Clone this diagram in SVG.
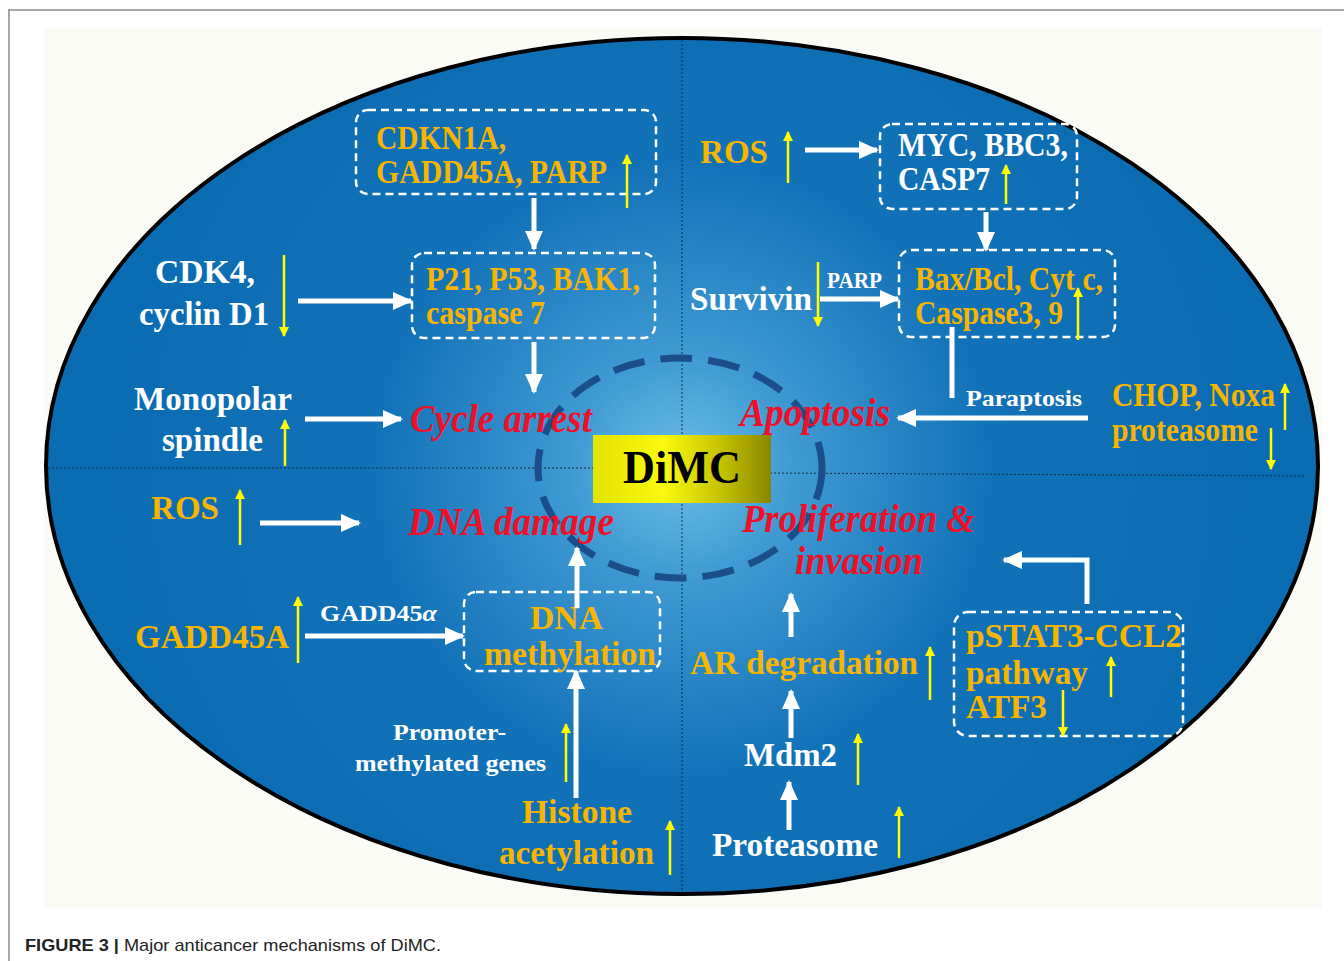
<svg xmlns="http://www.w3.org/2000/svg" width="1344" height="961" viewBox="0 0 1344 961">
<defs>
<radialGradient id="bg" gradientUnits="userSpaceOnUse" cx="682" cy="468" r="560">
<stop offset="0" stop-color="#6cbde8"/>
<stop offset="0.2" stop-color="#3f9ad3"/>
<stop offset="0.55" stop-color="#1272b8"/>
<stop offset="1" stop-color="#0a6cb2"/>
</radialGradient>
<linearGradient id="yb" x1="0" y1="0" x2="1" y2="0">
<stop offset="0" stop-color="#e4e400"/>
<stop offset="0.4" stop-color="#f8f810"/>
<stop offset="0.7" stop-color="#c8c600"/>
<stop offset="1" stop-color="#8a8600"/>
</linearGradient>
<marker id="wh" markerUnits="userSpaceOnUse" markerWidth="20" markerHeight="18" refX="18" refY="9" orient="auto">
<path d="M0,0 L20,9 L0,18 Z" fill="#fff"/>
</marker>
<marker id="yh" markerUnits="userSpaceOnUse" markerWidth="10" markerHeight="10" refX="9" refY="5" orient="auto">
<path d="M0,0 L10,5 L0,10 Z" fill="#ffff00"/>
</marker>
</defs>
<style>
.t{font-family:"Liberation Serif","Times New Roman",serif;font-weight:bold;}
.o{fill:#f7b500;font-size:33px;}
.w{fill:#fff;font-size:34px;}
.ws{fill:#fff;font-size:24px;}
.r{fill:#ee1028;font-size:40px;font-style:italic;}
.box{fill:none;stroke:#fff;stroke-width:2.5;stroke-dasharray:8 5;}
.wa{stroke:#fff;stroke-width:5;fill:none;marker-end:url(#wh);}
.wl{stroke:#fff;stroke-width:5;fill:none;}
.ya{stroke:#ffff00;stroke-width:2.5;fill:none;marker-end:url(#yh);}
.div{stroke:#1a2a3a;stroke-width:1;stroke-dasharray:2 2;fill:none;}
</style>
<rect width="1344" height="961" fill="#fff"/>
<rect x="44" y="28" width="1278" height="880" fill="#fbfbf6"/>
<line x1="8" y1="10" x2="1344" y2="10" stroke="#888" stroke-width="1.5"/>
<line x1="9" y1="10" x2="9" y2="961" stroke="#888" stroke-width="1.5"/>
<g id="background">
<ellipse cx="682" cy="466" rx="636" ry="428" fill="url(#bg)" stroke="#000" stroke-width="4"/>
<line class="div" x1="682" y1="40" x2="682" y2="890"/>
<line class="div" x1="48" y1="468" x2="595" y2="468"/>
<line class="div" x1="770" y1="473" x2="1306" y2="476"/>
<ellipse cx="680" cy="468" rx="142" ry="110" fill="none" stroke="#1b4f8c" stroke-width="7" stroke-dasharray="32 16"/>
</g>
<g id="dimc">
<rect x="593" y="435" width="178" height="68" fill="url(#yb)"/>
<text class="t" x="682" y="483" text-anchor="middle" font-size="46" fill="#000" textLength="118" lengthAdjust="spacingAndGlyphs">DiMC</text>
</g>
<g id="n-cdkn1a">
<rect class="box" x="356" y="110" width="300" height="84" rx="12"/>
<text class="t o" x="376" y="149" textLength="130" lengthAdjust="spacingAndGlyphs">CDKN1A,</text>
<text class="t o" x="376" y="183" textLength="231" lengthAdjust="spacingAndGlyphs">GADD45A, PARP</text>
</g>
<g id="n-p21">
<rect class="box" x="412" y="253" width="243" height="85" rx="12"/>
<text class="t o" x="426" y="290" font-size="31" textLength="214" lengthAdjust="spacingAndGlyphs">P21, P53, BAK1,</text>
<text class="t o" x="426" y="324" font-size="31" textLength="119" lengthAdjust="spacingAndGlyphs">caspase 7</text>
</g>
<g id="n-cdk4">
<text class="t w" x="155" y="283" textLength="100" lengthAdjust="spacingAndGlyphs">CDK4,</text>
<text class="t w" x="139" y="325" textLength="130" lengthAdjust="spacingAndGlyphs">cyclin D1</text>
</g>
<g id="n-monopolar">
<text class="t w" x="134" y="410" textLength="158" lengthAdjust="spacingAndGlyphs">Monopolar</text>
<text class="t w" x="162" y="451" textLength="101" lengthAdjust="spacingAndGlyphs">spindle</text>
</g>
<g id="n-cycle">
<text class="t r" x="410" y="432" textLength="182" lengthAdjust="spacingAndGlyphs">Cycle arrest</text>
</g>
<g id="n-ros1">
<text class="t o" x="700" y="163" textLength="68" lengthAdjust="spacingAndGlyphs">ROS</text>
</g>
<g id="n-myc">
<rect class="box" x="880" y="124" width="197" height="85" rx="12"/>
<text class="t w" x="898" y="156" font-size="32" textLength="170" lengthAdjust="spacingAndGlyphs">MYC, BBC3,</text>
<text class="t w" x="898" y="190" font-size="32" textLength="92" lengthAdjust="spacingAndGlyphs">CASP7</text>
</g>
<g id="n-bax">
<rect class="box" x="899" y="250" width="216" height="87" rx="12"/>
<text class="t o" x="915" y="290" font-size="31" textLength="188" lengthAdjust="spacingAndGlyphs">Bax/Bcl, Cyt c,</text>
<text class="t o" x="915" y="324" font-size="31" textLength="148" lengthAdjust="spacingAndGlyphs">Caspase3, 9</text>
</g>
<g id="n-survivin">
<text class="t w" x="690" y="310" textLength="122" lengthAdjust="spacingAndGlyphs">Survivin</text>
</g>
<g id="n-apoptosis">
<text class="t r" x="740" y="426" textLength="150" lengthAdjust="spacingAndGlyphs">Apoptosis</text>
</g>
<g id="n-chop">
<text class="t o" x="1112" y="406" textLength="163" lengthAdjust="spacingAndGlyphs">CHOP, Noxa</text>
<text class="t o" x="1112" y="441" textLength="146" lengthAdjust="spacingAndGlyphs">proteasome</text>
</g>
<g id="n-ros2">
<text class="t o" x="151" y="519" textLength="68" lengthAdjust="spacingAndGlyphs">ROS</text>
</g>
<g id="n-dnadamage">
<text class="t r" x="408" y="535" textLength="206" lengthAdjust="spacingAndGlyphs">DNA damage</text>
</g>
<g id="n-dnameth">
<rect class="box" x="464" y="592" width="196" height="79" rx="12"/>
<text class="t o" x="530" y="629" textLength="73" lengthAdjust="spacingAndGlyphs">DNA</text>
<text class="t o" x="484" y="665" textLength="172" lengthAdjust="spacingAndGlyphs">methylation</text>
</g>
<g id="n-gadd45a">
<text class="t o" x="135" y="648" textLength="154" lengthAdjust="spacingAndGlyphs">GADD45A</text>
</g>
<g id="n-promoter">
<text class="t ws" x="393" y="740" textLength="113" lengthAdjust="spacingAndGlyphs">Promoter-</text>
<text class="t ws" x="355" y="771" textLength="191" lengthAdjust="spacingAndGlyphs">methylated genes</text>
</g>
<g id="n-histone">
<text class="t o" x="522" y="823" textLength="110" lengthAdjust="spacingAndGlyphs">Histone</text>
<text class="t o" x="499" y="864" textLength="155" lengthAdjust="spacingAndGlyphs">acetylation</text>
</g>
<g id="n-prolif">
<text class="t r" x="742" y="532" font-size="38" textLength="233" lengthAdjust="spacingAndGlyphs">Proliferation &amp;</text>
<text class="t r" x="795" y="574" font-size="38" textLength="128" lengthAdjust="spacingAndGlyphs">invasion</text>
</g>
<g id="n-ar">
<text class="t o" x="690" y="674" textLength="228" lengthAdjust="spacingAndGlyphs">AR degradation</text>
</g>
<g id="n-pstat3">
<rect class="box" x="954" y="612" width="229" height="124" rx="14"/>
<text class="t o" x="966" y="647" textLength="216" lengthAdjust="spacingAndGlyphs">pSTAT3-CCL2</text>
<text class="t o" x="966" y="684" textLength="122" lengthAdjust="spacingAndGlyphs">pathway</text>
<text class="t o" x="966" y="718" textLength="81" lengthAdjust="spacingAndGlyphs">ATF3</text>
</g>
<g id="n-mdm2">
<text class="t w" x="744" y="766" textLength="93" lengthAdjust="spacingAndGlyphs">Mdm2</text>
</g>
<g id="n-proteasome">
<text class="t w" x="712" y="856" textLength="166" lengthAdjust="spacingAndGlyphs">Proteasome</text>
</g>
<g id="connectors">
<line class="wa" x1="534" y1="198" x2="534" y2="249"/>
<line class="wa" x1="298" y1="301" x2="411" y2="301"/>
<line class="wa" x1="534" y1="342" x2="534" y2="392"/>
<line class="wa" x1="305" y1="419" x2="401" y2="419"/>
<line class="wa" x1="805" y1="150" x2="877" y2="150"/>
<line class="wa" x1="986" y1="212" x2="986" y2="250"/>
<line class="wa" x1="820" y1="299" x2="898" y2="299"/>
<polyline class="wl" points="952,327 952,398"/>
<line class="wa" x1="1088" y1="418" x2="898" y2="418"/>
<line class="wa" x1="260" y1="523" x2="359" y2="523"/>
<line class="wa" x1="577" y1="608" x2="577" y2="548"/>
<line class="wa" x1="305" y1="636" x2="463" y2="636"/>
<line class="wa" x1="576" y1="798" x2="576" y2="671"/>
<polyline class="wa" points="1087,604 1087,560 1004,560"/>
<line class="wa" x1="791" y1="637" x2="791" y2="594"/>
<line class="wa" x1="791" y1="738" x2="791" y2="691"/>
<line class="wa" x1="789" y1="830" x2="789" y2="782"/>
<text class="t ws" x="827" y="288" font-size="21" textLength="55" lengthAdjust="spacingAndGlyphs">PARP</text>
<text class="t ws" x="966" y="406" textLength="116" lengthAdjust="spacingAndGlyphs">Paraptosis</text>
<text class="t ws" x="320" y="621" textLength="117" lengthAdjust="spacingAndGlyphs">GADD45<tspan font-style="italic">α</tspan></text>
</g>
<g id="indicators">
<line class="ya" x1="627" y1="208" x2="627" y2="155"/>
<line class="ya" x1="284" y1="255" x2="284" y2="336"/>
<line class="ya" x1="285" y1="466" x2="285" y2="420"/>
<line class="ya" x1="788" y1="183" x2="788" y2="132"/>
<line class="ya" x1="1006" y1="204" x2="1006" y2="165"/>
<line class="ya" x1="1078" y1="340" x2="1078" y2="288"/>
<line class="ya" x1="818" y1="262" x2="818" y2="326"/>
<line class="ya" x1="1285" y1="430" x2="1285" y2="384"/>
<line class="ya" x1="1271" y1="428" x2="1271" y2="469"/>
<line class="ya" x1="240" y1="545" x2="240" y2="490"/>
<line class="ya" x1="298" y1="663" x2="298" y2="597"/>
<line class="ya" x1="566" y1="782" x2="566" y2="724"/>
<line class="ya" x1="670" y1="875" x2="670" y2="821"/>
<line class="ya" x1="930" y1="700" x2="930" y2="647"/>
<line class="ya" x1="1111" y1="697" x2="1111" y2="657"/>
<line class="ya" x1="1063" y1="690" x2="1063" y2="736"/>
<line class="ya" x1="858" y1="785" x2="858" y2="734"/>
<line class="ya" x1="899" y1="858" x2="899" y2="807"/>
</g>
<g id="caption">
<text x="25" y="951" font-family="'Liberation Sans',Arial,sans-serif" font-size="17" fill="#222" textLength="416" lengthAdjust="spacingAndGlyphs"><tspan font-weight="bold">FIGURE 3 |</tspan> Major anticancer mechanisms of DiMC.</text>
</g>
</svg>
